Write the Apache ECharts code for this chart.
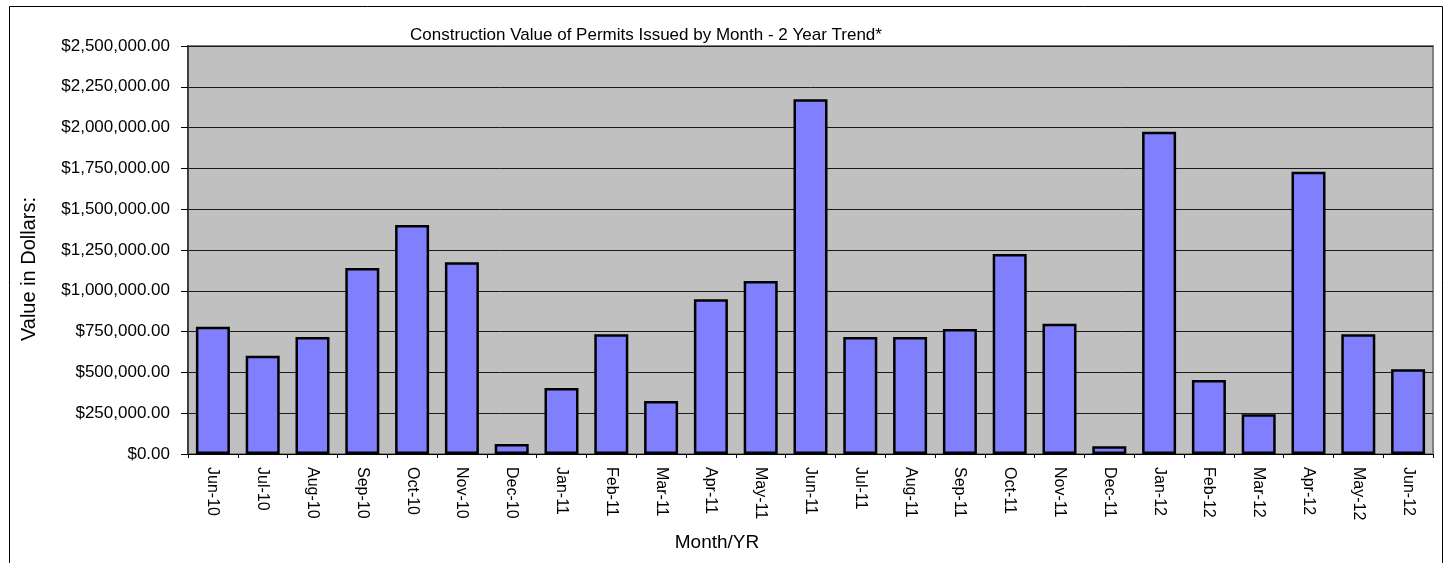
<!DOCTYPE html>
<html>
<head>
<meta charset="utf-8">
<script src="https://cdn.jsdelivr.net/npm/echarts@6/dist/echarts.min.js"></script>
<style>
  html, body { margin: 0; padding: 0; background: #fff; }
  #chart { width: 1446px; height: 563px; }
</style>
</head>
<body>
<div id="chart"></div>
<script>
var months = ['Jun-10','Jul-10','Aug-10','Sep-10','Oct-10','Nov-10','Dec-10','Jan-11','Feb-11','Mar-11',
  'Apr-11','May-11','Jun-11','Jul-11','Aug-11','Sep-11','Oct-11','Nov-11','Dec-11','Jan-12',
  'Feb-12','Mar-12','Apr-12','May-12','Jun-12']
var permit_values = [780000, 602000, 717000, 1140000, 1403000, 1175000, 61000, 404000, 733000, 325000,
  948000, 1060000, 2173000, 717000, 717000, 766000, 1225000, 798000, 47000, 1975000,
  453000, 243000, 1730000, 733000, 519000]
var y_max = 2500000
var y_step = 250000

var FONT = "'Liberation Sans', Arial, sans-serif"

function money(v){
    return '$' + Number(v).toLocaleString('en-US', {minimumFractionDigits: 2, maximumFractionDigits: 2})
}

var chart_div = echarts.init(document.getElementById('chart'))

var option = {
    animation: false,
    backgroundColor: '#ffffff',
    title: [
        {
            text: 'Construction Value of Permits Issued by Month - 2 Year Trend*',
            left: 641, top: 30, textAlign: 'center', textVerticalAlign: 'middle',
            textStyle: {fontFamily: FONT, fontSize: 17, fontWeight: 'normal', color: '#000'}
        },
        {
            text: 'Month/YR',
            left: 712, top: 538, textAlign: 'center', textVerticalAlign: 'middle',
            textStyle: {fontFamily: FONT, fontSize: 19, fontWeight: 'normal', color: '#000'}
        }
    ],
    graphic: [
        {
            type: 'rect', silent: true, z: -1,
            shape: {x: 9.5, y: 6.5, width: 1433, height: 600},
            style: {fill: 'none', stroke: '#000', lineWidth: 1}
        },
        {
            type: 'text', x: 29, y: 269, rotation: Math.PI / 2,
            style: {text: 'Value in Dollars:', font: '20px ' + FONT, fill: '#000',
                    textAlign: 'center', textVerticalAlign: 'middle'}
        }
    ],
    grid: {
        left: 188, right: 13, top: 46, bottom: 109,
        show: true, backgroundColor: '#c0c0c0', borderColor: '#808080', borderWidth: 2
    },
    xAxis: {
        type: 'category',
        data: months,
        axisLine: {show: true, lineStyle: {color: '#000', width: 1}},
        axisTick: {show: true, length: 4, lineStyle: {color: '#000'}},
        axisLabel: {rotate: -90, margin: 13, interval: 0, color: '#000',
                    fontFamily: FONT, fontSize: 16}
    },
    yAxis: {
        type: 'value',
        min: 0, max: y_max, interval: y_step,
        axisLine: {show: true, lineStyle: {color: '#404040', width: 2}},
        axisTick: {show: true, length: 7, lineStyle: {color: '#000'}},
        splitLine: {show: true, lineStyle: {color: '#1a1a1a', width: 1}},
        axisLabel: {margin: 18, color: '#000', fontFamily: FONT, fontSize: 17, formatter: money}
    },
    series: [{
        type: 'bar',
        data: permit_values,
        barWidth: 34,
        itemStyle: {color: '#8080ff', borderColor: '#000', borderWidth: 2.5}
    }]
}
chart_div.setOption(option)
</script>
</body>
</html>
